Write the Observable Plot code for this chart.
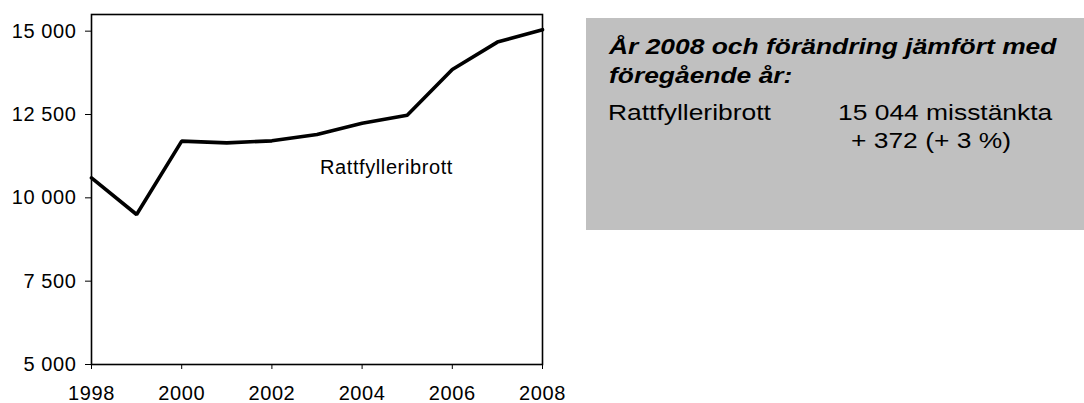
<!DOCTYPE html>
<html>
<head>
<meta charset="utf-8">
<script src="https://cdn.jsdelivr.net/npm/d3@7"></script>
<script src="https://cdn.jsdelivr.net/npm/@observablehq/plot@0.6"></script>
<style>
  html, body { margin: 0; padding: 0; background: #fff; }
  #root { position: relative; width: 1084px; height: 403px; overflow: hidden; font-family: "Liberation Sans", Arial, sans-serif; }
  #chart { position: absolute; left: 0; top: 0; }
  #box { position: absolute; left: 586px; top: 18px; width: 498px; height: 212px; background: #c0c0c0; }
  .t { position: absolute; white-space: nowrap; font-size: 22px; line-height: 1; color: #000; transform: scaleX(1.2); transform-origin: 0 0; }
  .b { font-weight: bold; font-style: italic; }
</style>
</head>
<body>
<div id="root">
  <div id="chart"></div>
  <div id="box"></div>
</div>
<script>
// Data
const years = [1998, 1999, 2000, 2001, 2002, 2003, 2004, 2005, 2006, 2007, 2008];
const rattfylleri = [10600, 9500, 11700, 11650, 11710, 11900, 12240, 12480, 13850, 14672, 15044];
const seriesName = "Rattfylleribrott";
const yTicks = [5000, 7500, 10000, 12500, 15000];
const xTicks = [1998, 2000, 2002, 2004, 2006, 2008];
const boxTitle = ["År 2008 och förändring jämfört med", "föregående år:"];
const boxRows = [
  { label: "Rattfylleribrott", value: "15 044 misstänkta", change: "+ 372 (+ 3 %)" }
];

const data = years.map((y, i) => ({ year: y, value: rattfylleri[i] }));
const fmt = d => d3.format(",")(d).replace(/,/g, " ");

const chart = Plot.plot({
  width: 580,
  height: 403,
  marginLeft: 91,
  marginRight: 38,
  marginTop: 14,
  marginBottom: 39,
  style: { fontFamily: "Liberation Sans, Arial, sans-serif", fontSize: "20px", letterSpacing: "0.6px", color: "#000", background: "transparent" },
  x: { domain: [1998, 2008], label: null },
  y: { domain: [5000, 15500], label: null },
  marks: [
    Plot.axisY({ ticks: yTicks, tickFormat: fmt, tickSize: 6, tickPadding: 9, fontSize: 20, label: null }),
    Plot.axisX({ ticks: xTicks, tickFormat: d => String(d), tickSize: 5, tickPadding: 16, fontSize: 20, label: null }),
    Plot.frame({ stroke: "#000", strokeWidth: 1.6 }),
    Plot.line(data, { x: "year", y: "value", stroke: "#000", strokeWidth: 3.6, strokeLinejoin: "miter" }),
    Plot.text([seriesName], { x: 2004.54, y: 10920, text: d => d, fontSize: 20, fill: "#000" })
  ]
});
document.getElementById("chart").appendChild(chart);

// Info box
const box = document.getElementById("box");
function addText(txt, left, baseline, cls) {
  const el = document.createElement("div");
  el.className = "t " + (cls || "");
  el.textContent = txt;
  el.style.left = left + "px";
  el.style.top = (baseline - 18 - 18.6) + "px";
  box.appendChild(el);
}
addText(boxTitle[0], 23, 54.5, "b");
addText(boxTitle[1], 23, 83.3, "b");
boxRows.forEach(r => {
  addText(r.label, 22, 120.5);
  addText(r.value, 252, 120.5);
  addText(r.change, 265, 148.5);
});
</script>
</body>
</html>
